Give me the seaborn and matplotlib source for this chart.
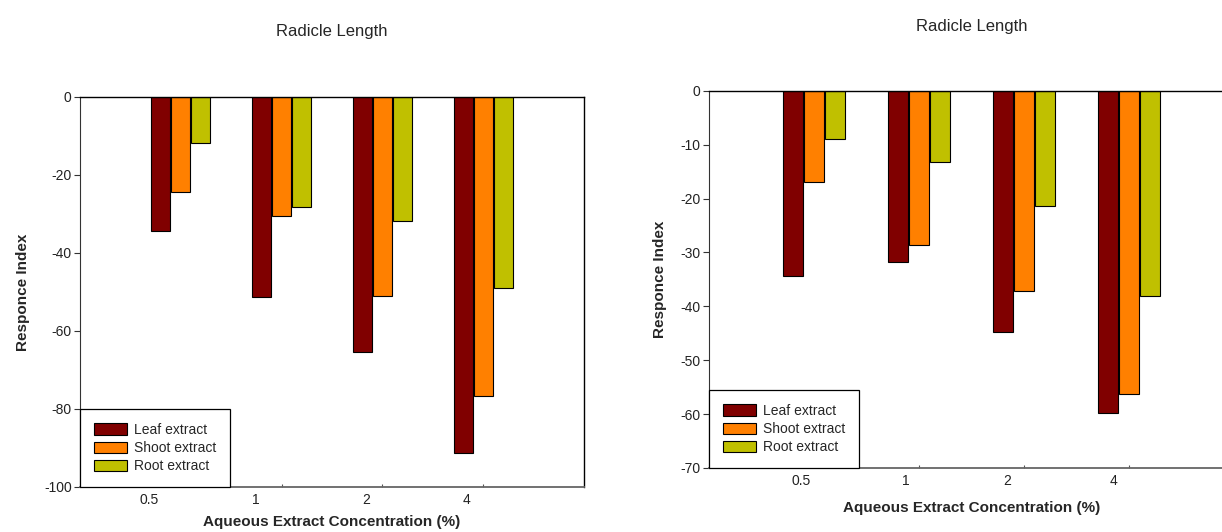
import numpy as np
import pandas as pd
import seaborn as sns
import matplotlib
import matplotlib.pyplot as plt
from matplotlib.patches import Patch

sns.set_style("white")
matplotlib.rcParams['font.family'] = ["Liberation Sans", "DejaVu Sans"]

# data
concentrations = ["0.5", "1", "2", "4"]
extracts = ["Leaf extract", "Shoot extract", "Root extract"]

left_leaf = [-34.3, -51.2, -65.3, -91.2]
left_shoot = [-24.4, -30.4, -51.0, -76.6]
left_root = [-11.9, -28.1, -31.8, -48.9]

right_leaf = [-34.4, -31.8, -44.7, -59.8]
right_shoot = [-17.0, -28.7, -37.1, -56.2]
right_root = [-9.0, -13.3, -21.3, -38.1]

left_yticks = [0, -20, -40, -60, -80, -100]
right_yticks = [0, -10, -20, -30, -40, -50, -60, -70]

mycolors = ["#800000", "#FF8000", "#C0C000"]


def make_long(leaf, shoot, root):
    df = pd.DataFrame({"Concentration": concentrations,
                       extracts[0]: leaf, extracts[1]: shoot, extracts[2]: root})
    return pd.melt(df, id_vars=["Concentration"], var_name="Type", value_name="Index")


df_left = make_long(left_leaf, left_shoot, left_root)
df_right = make_long(right_leaf, right_shoot, right_root)

fig = plt.figure(figsize=(12.22, 5.32), dpi=100)
ax1 = fig.add_axes([80 / 1222, (532 - 487) / 532, 504 / 1222, 390 / 532])
ax2 = fig.add_axes([709 / 1222, (532 - 468) / 532, 525 / 1222, 377.3 / 532])


def draw_panel(ax, df, yticks, ylim, label_shift, title_y, xlabel_pad):
    sns.barplot(data=df, x="Concentration", y="Index", hue="Type",
                order=concentrations, hue_order=extracts, palette=mycolors,
                saturation=1, width=0.6, gap=0.06, errorbar=None,
                edgecolor="black", linewidth=0.8, legend=False, ax=ax)
    ax.set_xlim(-1, 4)
    ax.set_ylim(ylim, 0)
    ax.set_yticks(yticks)
    ax.set_yticklabels([str(t) for t in yticks], fontsize=10, color="#222222")
    # tick marks at the group centres, labels a bit to the left (sigmaplot style)
    ax.set_xticks(range(len(concentrations)))
    ax.set_xticklabels([])
    ax.set_xticks([i + s for i, s in enumerate(label_shift)], minor=True)
    ax.set_xticklabels(concentrations, minor=True, fontsize=10, color="#222222")
    ax.tick_params(axis="y", direction="out", length=4, width=0.8, pad=2, left=True, color="#333333")
    ax.tick_params(axis="x", which="major", direction="in", length=2, width=0.8, bottom=True, color="#555555")
    ax.tick_params(axis="x", which="minor", length=0, pad=4, bottom=True)
    ax.set_ylabel("Responce Index", fontsize=11, fontweight="bold", labelpad=10)
    ax.set_xlabel("Aqueous Extract Concentration (%)", fontsize=11, fontweight="bold", labelpad=xlabel_pad)
    ax.set_title("Radicle Length", fontsize=12, y=title_y)
    for side in ["top", "right"]:
        ax.spines[side].set_color("black")
        ax.spines[side].set_linewidth(1.0)
    ax.spines["left"].set_color("#333333")
    ax.spines["left"].set_linewidth(0.8)
    ax.spines["bottom"].set_color("#666666")
    ax.spines["bottom"].set_linewidth(1.3)
    handles = [Patch(facecolor=c, edgecolor="black", linewidth=0.8, label=l)
               for c, l in zip(mycolors, extracts)]
    leg = ax.legend(handles=handles, loc="lower left", bbox_to_anchor=(0, 0),
                    borderaxespad=0, fancybox=False, framealpha=1, edgecolor="black",
                    fontsize=10, handlelength=2.4, handleheight=0.85,
                    handletextpad=0.5, labelspacing=0.3, borderpad=1.0)
    leg.get_frame().set_linewidth(0.9)


draw_panel(ax1, df_left, left_yticks, -100, [-0.31, -0.26, -0.16, -0.17], 1.135, 6)
draw_panel(ax2, df_right, right_yticks, -70, [-0.125, -0.125, -0.16, -0.15], 1.137, 10)

plt.savefig("out.png", dpi=100)
